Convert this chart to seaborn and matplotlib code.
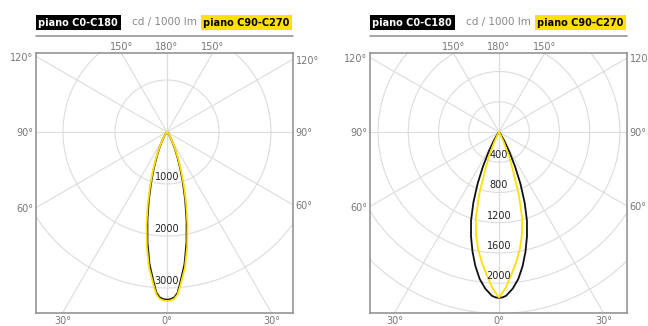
import numpy as np
import pandas as pd
import seaborn as sns
import matplotlib.pyplot as plt

gamma_sx = [0, 1.25, 2.5, 3.75, 5, 7.5, 10, 12.5, 15, 17.5, 20, 22.5, 25, 27.5, 30, 32.5, 35, 37.5, 40, 45, 50, 60, 70, 80, 90]
c0_sx = [3225, 3215, 3185, 3100, 2910, 2570, 2160, 1740, 1350, 1010, 735, 520, 355, 235, 150, 90, 50, 28, 15, 5, 1, 0, 0, 0, 0]
c90_sx = [3250, 3240, 3212, 3130, 2960, 2636, 2235, 1818, 1425, 1077, 795, 570, 395, 265, 170, 104, 60, 33, 18, 6, 2, 0, 0, 0, 0]

gamma_dx = [0, 1.25, 2.5, 5, 7.5, 10, 12.5, 15, 17.5, 20, 22.5, 25, 27.5, 30, 32.5, 35, 40, 45, 50, 60, 70, 80, 90]
c0_dx = [2195, 2188, 2168, 2080, 1960, 1800, 1620, 1430, 1230, 990, 740, 500, 300, 160, 80, 35, 10, 0, 0, 0, 0, 0, 0]
c90_dx = [2190, 2125, 2060, 1890, 1740, 1580, 1400, 1190, 880, 540, 350, 150, 50, 10, 0, 0, 0, 0, 0, 0, 0, 0, 0]

anelli_sx = [1000, 2000, 3000]
etichette_sx = [1000, 2000, 3000]
anelli_dx = [400, 800, 1200, 1600, 2000, 2400]
etichette_dx = [400, 800, 1200, 1600, 2000]

angoli_griglia = [0, 30, 60, 90, 120, 150, 180]

GIALLO = '#ffe100'
NERO = '#111111'
GRIGIO = '#8c8c8c'
GRIGIO_GRIGLIA = '#dcdcdc'

W, H = 648, 326


# Converte la curva fotometrica (simmetrica) in coordinate cartesiane
def curva_xy(gamma, valori, piano):
    g = np.array(gamma, dtype=float)
    v = np.array(valori, dtype=float)
    g_tot = np.concatenate([-g[::-1], g[1:]])
    v_tot = np.concatenate([v[::-1], v[1:]])
    rad = np.deg2rad(g_tot)
    return pd.DataFrame({'x': v_tot * np.sin(rad), 'y': -v_tot * np.cos(rad), 'piano': piano})


# Disegna un pannello polare
def disegna_pannello(fig, box, centro_x, scala, gamma, c0, c90, anelli, etichette):
    x0, y0, x1, y1 = box  # pixel: sinistra, alto, destra, basso
    centro_y = 132
    ax = fig.add_axes([x0 / W, (H - y1) / H, (x1 - x0) / W, (y1 - y0) / H])
    xmin, xmax = -(centro_x - x0) / scala, (x1 - centro_x) / scala
    ymin, ymax = -(y1 - centro_y) / scala, (centro_y - y0) / scala
    ax.set_xlim(xmin, xmax)
    ax.set_ylim(ymin, ymax)

    # griglia: cerchi e raggi
    t = np.linspace(0, 2 * np.pi, 361)
    for r in anelli:
        ax.plot(r * np.cos(t), r * np.sin(t), color=GRIGIO_GRIGLIA, lw=0.8, zorder=1)
    R = 10000
    for a in angoli_griglia:
        for lato in (-1, 1):
            ar = np.deg2rad(a)
            ax.plot([0, lato * R * np.sin(ar)], [0, -R * np.cos(ar)], color=GRIGIO_GRIGLIA, lw=0.8, zorder=1)

    # curve fotometriche
    df = pd.concat([curva_xy(gamma, c0, 'C0-C180'), curva_xy(gamma, c90, 'C90-C270')])
    sns.lineplot(data=df, x='x', y='y', hue='piano', palette={'C0-C180': NERO, 'C90-C270': GIALLO},
                 sort=False, estimator=None, legend=False, lw=1.3, ax=ax, zorder=3)

    # etichette dei cerchi
    for r in etichette:
        ax.annotate(str(r), (0, -r), xytext=(0, 1.5), textcoords='offset points',
                    ha='center', va='bottom', fontsize=7, color='#222222', zorder=4)

    # etichette degli angoli
    for a in angoli_griglia:
        lati = (1,) if a in (0, 180) else (-1, 1)
        for lato in lati:
            ar = np.deg2rad(a)
            dx, dy = lato * np.sin(ar), -np.cos(ar)
            cand = []
            if dx > 1e-9:
                cand.append((xmax / dx, 'destra'))
            if dx < -1e-9:
                cand.append((xmin / dx, 'sinistra'))
            if dy > 1e-9:
                cand.append((ymax / dy, 'alto'))
            if dy < -1e-9:
                cand.append((ymin / dy, 'basso'))
            tt, lato_box = min(cand)
            px, py = tt * dx, tt * dy
            testo = f'{a}°'
            if lato_box == 'basso':
                kw = dict(xytext=(0, -2), ha='center', va='top')
            elif lato_box == 'alto':
                kw = dict(xytext=(0, 1), ha='center', va='bottom')
            elif lato_box == 'sinistra':
                kw = dict(xytext=(-2, -1), ha='right', va='center')
            else:
                kw = dict(xytext=(2, -1), ha='left', va='center')
            ax.annotate(testo, (px, py), textcoords='offset points', fontsize=7,
                        color='#777777', annotation_clip=False, **kw)

    # intestazione
    h = y1 - y0
    yt = 1 + (y0 - 22.5) / h
    ax.text(2.4 / (x1 - x0), yt, 'piano C0-C180', transform=ax.transAxes, ha='left', va='center',
            fontsize=7, fontweight='bold', color='white',
            bbox=dict(boxstyle='square,pad=0.25', fc='black', ec='none'))
    ax.text(0.50, yt, 'cd / 1000 lm', transform=ax.transAxes, ha='center', va='center',
            fontsize=7.5, color='#888888')
    ax.text(1 - 3.4 / (x1 - x0), yt, 'piano C90-C270', transform=ax.transAxes, ha='right', va='center',
            fontsize=7, fontweight='bold', color='black',
            bbox=dict(boxstyle='square,pad=0.25', fc=GIALLO, ec='none'))
    yl = 1 + (y0 - 35.5) / h
    ax.plot([0, 1], [yl, yl], transform=ax.transAxes, clip_on=False, color=GRIGIO, lw=1.1)

    for s in ax.spines.values():
        s.set_color(GRIGIO)
        s.set_linewidth(1.1)
    ax.set_xticks([])
    ax.set_yticks([])
    ax.set_xlabel('')
    ax.set_ylabel('')
    return ax


sns.set_style('white')
plt.rcParams['font.family'] = ['DejaVu Sans']

fig = plt.figure(figsize=(6.48, 3.26), dpi=100)
disegna_pannello(fig, (36, 53, 293, 313), 167, 0.052, gamma_sx, c0_sx, c90_sx, anelli_sx, etichette_sx)
disegna_pannello(fig, (370, 53, 627, 313), 499, 0.0756, gamma_dx, c0_dx, c90_dx, anelli_dx, etichette_dx)

fig.savefig('out.png', dpi=100)
